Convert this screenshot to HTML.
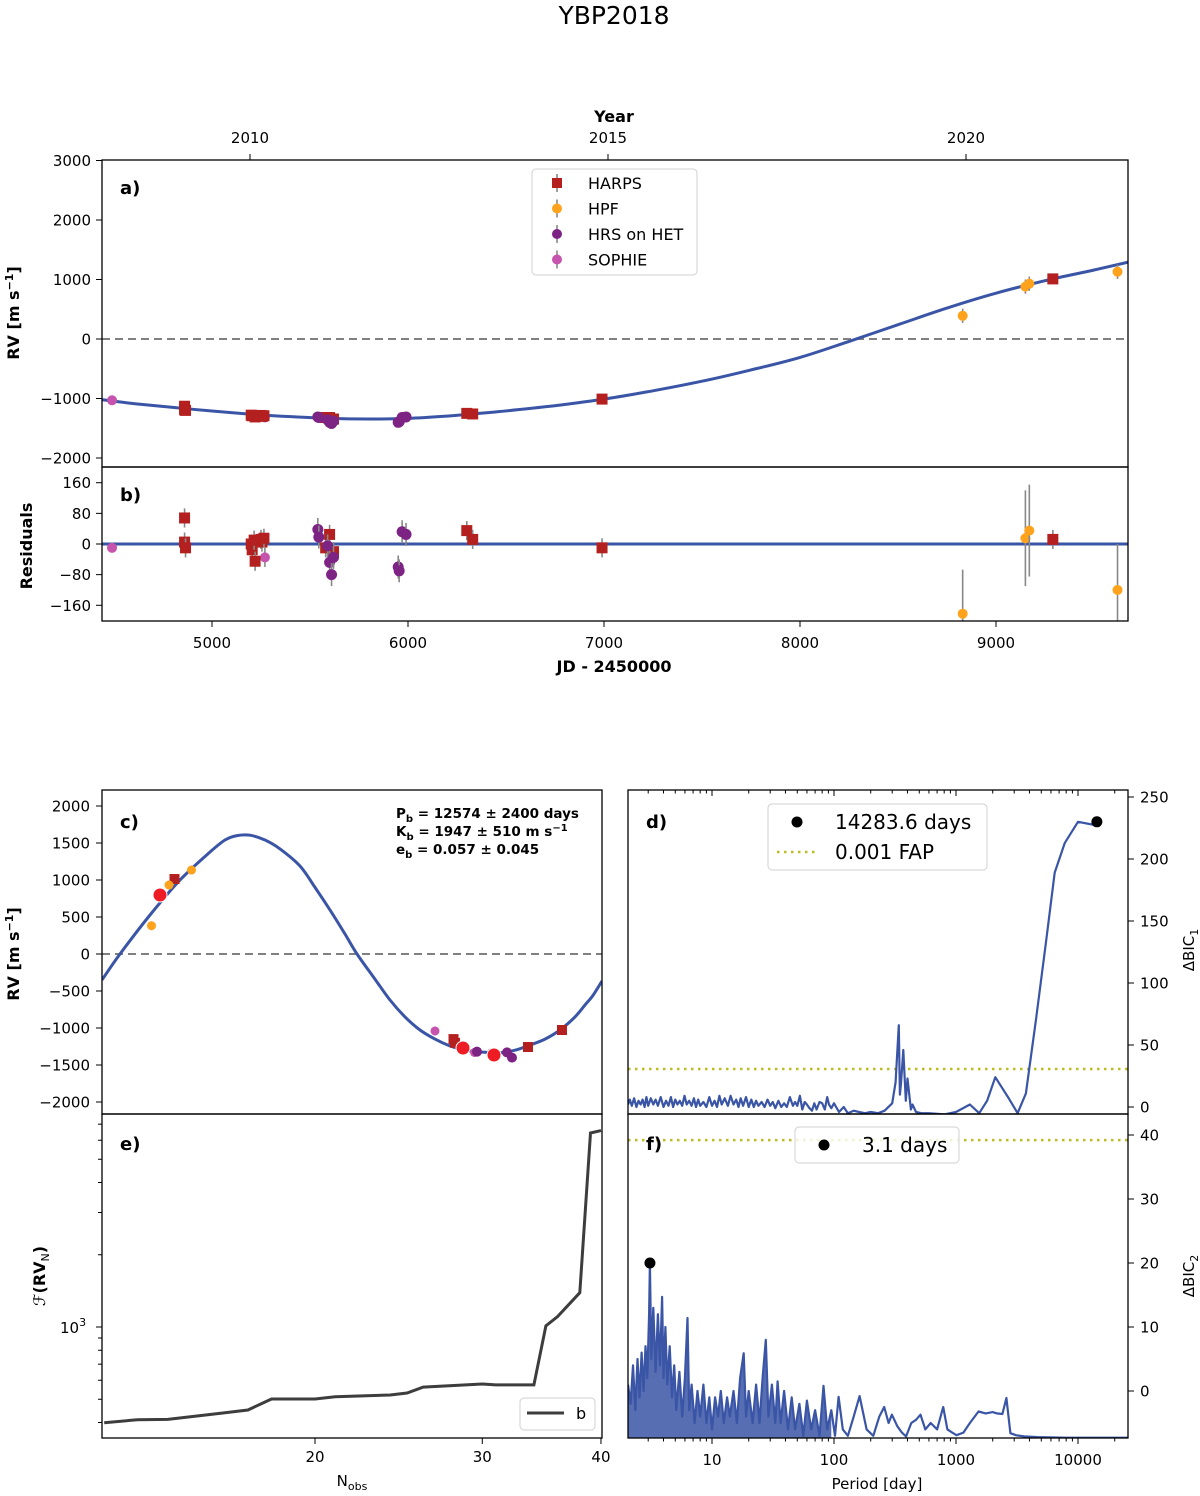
<!DOCTYPE html>
<html><head><meta charset="utf-8"><style>
body{margin:0;background:#fff}
svg{display:block;font-family:"DejaVu Sans","Liberation Sans",sans-serif}
</style></head><body>
<svg id="fig" width="1200" height="1496" viewBox="0 0 1200 1496" xmlns="http://www.w3.org/2000/svg">
<defs>
<clipPath id="ca"><rect x="102" y="160" width="1026" height="307"/></clipPath>
<clipPath id="cb"><rect x="102" y="467" width="1026" height="154"/></clipPath>
<clipPath id="cc"><rect x="102" y="790" width="500" height="324"/></clipPath>
<clipPath id="ce"><rect x="102" y="1114" width="500" height="324"/></clipPath>
<clipPath id="cd"><rect x="628" y="790" width="500" height="324"/></clipPath>
<clipPath id="cf"><rect x="628" y="1114" width="500" height="324"/></clipPath>
</defs>
<text x="614" y="24" text-anchor="middle" font-size="25">YBP2018</text>
</svg>
<script>
// ---- data: panel a (RV time series) ----
const curveJD = [4440,4600,4800,5000,5200,5400,5600,5800,6000,6200,6400,6700,7000,7250,7500,7750,8000,8250,8500,8750,9000,9250,9500,9673];
const curveRV = [-1020,-1085,-1150,-1210,-1265,-1305,-1335,-1345,-1335,-1295,-1240,-1140,-1010,-870,-710,-520,-310,-40,240,520,770,980,1160,1290];
const harpsJD = [4860,4860,4865,5200,5205,5215,5220,5250,5255,5265,5580,5600,5620,6300,6330,6990,9290];
const harpsRV = [-1130,-1190,-1200,-1280,-1290,-1285,-1310,-1285,-1300,-1290,-1320,-1320,-1345,-1250,-1260,-1010,1010];
const harpsRes = [68,5,-10,0,-15,10,-45,12,5,15,-10,25,-20,35,12,-10,12];
const hpfJD = [8830,9150,9170,9620];
const hpfRV = [390,880,930,1130];
const hpfRes = [-182,15,35,-120];
const hpfErr = [115,125,120,120];
const hrsJD = [5540,5545,5590,5600,5610,5620,5950,5955,5970,5990];
const hrsRV = [-1310,-1320,-1360,-1400,-1420,-1380,-1400,-1390,-1320,-1310];
const hrsRes = [38,18,-5,-48,-80,-35,-60,-70,32,25];
const sophJD = [4490,5270];
const sophRV = [-1030,-1320];
const sophRes = [-10,-35];
// ---- panel c (phased) ----
const cPhase = [0,.036,.096,.156,.216,.246,.27,.296,.326,.356,.396,.426,.456,.486,.51,.546,.576,.606,.636,.666,.696,.726,.756,.796,.826,.856,.886,.916,.946,.966,.982,1];
const cModel = [-350,0,527,1000,1378,1540,1600,1605,1540,1420,1189,900,595,270,0,-340,-622,-850,-1027,-1150,-1243,-1300,-1324,-1335,-1300,-1230,-1150,-1027,-850,-689,-560,-365];
const cHpfPh = [.099,.134,.179]; const cHpfRV = [382,932,1135];
const cHarpsPh = [.145,.703,.706,.852,.92]; const cHarpsRV = [1013,-1150,-1200,-1257,-1027];
const cHrsPh = [.75,.78,.81,.82]; const cHrsRV = [-1320,-1340,-1330,-1400];
const cSophPh = [.666,.745]; const cSophRV = [-1040,-1330];
const cBigPh = [.116,.722,.784]; const cBigRV = [797,-1270,-1365];
// ---- panel e ----
const eN = [12,13,14,16,17,18,20,21,24,25,26,30,31,34,35,36,38,39,40];
const eF = [399,411,412,438,451,501,501,512,521,531,562,579,574,574,1012,1104,1390,6430,6580];
// ---- panel d ----
const dP = [2.05,2.12,2.2,2.3,2.4,2.5,2.6,2.7,2.8,2.9,3,3.15,3.3,3.45,3.6,3.8,4,4.2,4.4,4.6,4.8,5,5.2,5.45,5.7,5.95,6.2,6.5,6.8,7.1,7.4,7.7,8,8.5,9,9.5,10,10.5,11,11.5,12,12.7,13.5,14.2,15,15.8,16.5,17.2,18,19,20,21,22,23,24,25.5,27,28.5,30,31.5,33,35,37,39,41,43.5,46,48,50,52.5,55,57.5,60,63,66,69,72,76,80,84,88,91,95,100,110,120,130,145,160,180,200,230,260,300,320,340,347,355,370,388,400,427,440,470,520,600,800,1000,1300,1550,1800,2100,2670,3200,3740,4520,5500,6440,7800,10000,14400,25700];
const dV = [2,6,1,7,0,5,2,6,0,8,1,7,2,6,1,8,0,5,1,8,0,6,2,5,1,9,2,5,1,7,0,6,1,4,0,8,1,5,0,9,2,7,1,9,2,6,0,7,1,8,0,6,0,5,1,4,0,6,1,4,-1,5,0,3,0,8,1,4,1,9,-2,4,2,-1,-3,3,-2,4,3,-2,8,2,-1,3,-4,0,-5,-3,-4,-5,-4,-5,-3,3,20,66,10,20,46,5,23,-2,2,-4,-5,-5,-6,-4,2,-5,5,24,8,-5,11,70,135,189,213,230,227];
const dPeakP = [14283.6]; const dPeakV = [230];
const dFAP = 30.6;
// ---- panel f ----
const fP = [2.05,2.15,2.25,2.35,2.45,2.55,2.65,2.75,2.85,2.95,3.05,3.1,3.18,3.3,3.45,3.6,3.75,3.9,4.0,4.15,4.3,4.5,4.7,4.9,5.1,5.4,5.7,6.0,6.3,6.5,6.8,7.2,7.6,8.0,8.5,9,9.5,10,10.6,11.2,11.8,12.5,13.3,14,15,16,17,18.2,19,20,21.5,23,24.5,26,27.6,29,31,33,34.5,36.5,39,42,45,48,52,56,60,65,70,76,82,88,95,102,109,118,130,145,162,185,210,235,258,280,298,330,360,390,430,470,512,560,620,700,785,850,930,1010,1150,1300,1530,1750,2000,2160,2400,2590,2790,3100,3600,4650,8000,26000];
const fV = [1,-2,4,-3,5,-1,6,0,7,2,12,20,5,13,3,12,4,14.7,2,10,1,7,-1,4,-3,3,-4,2,11.4,-3,1,-5,0,-4,1,-5,-1,-6,-1,-4,0,-5,-1,-4,0,-5,2,5.9,-4,0,-5,1,-5,2,8,-4,1,-5,1.5,-5,0,-6,-1,-6,-2,-7,-1.5,-6,-3,-7,0.8,-6,-3,-7,-0.9,-6,-7,-4,-0.8,-6,-7,-4,-2.5,-5,-3.7,-5.5,-6.5,-7.1,-5,-4.5,-3.7,-6,-5,-6,-2.5,-6,-6.5,-6.9,-6.5,-5,-3.2,-3.5,-3.3,-3.5,-3.6,-1.1,-6.6,-6.9,-7.1,-7.2,-7.3,-7.3];
const fPeakP = [3.1]; const fPeakV = [20];
const fFAP = 39.2;
// tick labels
const aYTicks = [3000,2000,1000,0,-1000,-2000];
const bYTicks = [160,80,0,-80,-160];
const jdTicks = [5000,6000,7000,8000,9000];
const yearTicks = [2010,2015,2020];
const cYTicks = [2000,1500,1000,500,0,-500,-1000,-1500,-2000];
const nTicks = [20,30,40];
const perTicks = [10,100,1000,10000];
const dYTicks = [250,200,150,100,50,0];
const fYTicks = [40,30,20,10,0];

// axis functions
const xa = jd => 212 + (jd - 5000) * 0.196;
const ya = v => 339 - v * 0.0595;
const yb = r => 544 - r * 0.383;
const xyear = y => 250 + (y - 2010) * 71.6;
const xc = ph => 102 + ph * 500;
const yc = v => 954 - v * 0.074;
const xe = n => 315 + 950 * Math.log10(n / 20);
const ye = F => 1327 - (Math.log10(F) - 3) * 240;
const xp = P => 712 + (Math.log10(P) - 1) * 122;
const yd = p => 1107 - p * 1.24;
const yf = p => 1391 - p * 6.4;

const NS = 'http://www.w3.org/2000/svg';
const svg = document.getElementById('fig');
function mk(tag, attrs, parent) {
  const e = document.createElementNS(NS, tag);
  for (const k in attrs) e.setAttribute(k, attrs[k]);
  (parent || svg).appendChild(e);
  return e;
}
function txt(x, y, s, attrs) {
  const e = mk('text', Object.assign({x: x, y: y}, attrs || {}));
  e.textContent = s;
  return e;
}
function fmt(v) { return v < 0 ? '\u2212' + Math.abs(v) : String(v); }
const BLUE = '#3a55a6', HARPS = '#b3201f', HPF = '#ffa21c', HRS = '#7c2383', SOPH = '#c653ad';

function pathFrom(xs, ys, fx, fy) {
  return xs.map((v, i) => (i ? 'L' : 'M') + fx(v).toFixed(1) + ' ' + fy(ys[i]).toFixed(1)).join(' ');
}
function smoothPath(xs, ys, fx, fy) {
  const p = xs.map((v, i) => [fx(v), fy(ys[i])]);
  let d = 'M' + p[0][0].toFixed(1) + ' ' + p[0][1].toFixed(1);
  for (let i = 0; i < p.length - 1; i++) {
    const p0 = p[Math.max(0, i - 1)], p1 = p[i], p2 = p[i + 1], p3 = p[Math.min(p.length - 1, i + 2)];
    const c1 = [p1[0] + (p2[0] - p0[0]) / 6, p1[1] + (p2[1] - p0[1]) / 6];
    const c2 = [p2[0] - (p3[0] - p1[0]) / 6, p2[1] - (p3[1] - p1[1]) / 6];
    d += ' C' + c1[0].toFixed(1) + ' ' + c1[1].toFixed(1) + ' ' + c2[0].toFixed(1) + ' ' + c2[1].toFixed(1) + ' ' + p2[0].toFixed(1) + ' ' + p2[1].toFixed(1);
  }
  return d;
}
function marker(g, shape, x, y, color, r) {
  let m;
  if (shape === 'sq') m = mk('rect', {x: x - r, y: y - r, width: 2 * r, height: 2 * r, fill: color}, g);
  else m = mk('circle', {cx: x, cy: y, r: r, fill: color}, g);
  return m;
}
function errbar(g, x, y1, y2) {
  return mk('line', {x1: x, x2: x, y1: y1, y2: y2, stroke: '#888', 'stroke-width': 1.6}, g);
}

// ================= Panel a =================
const ga = mk('g', {'clip-path': 'url(#ca)'});


let z = mk('line', {x1: 102, x2: 1128, y1: ya(0), y2: ya(0), stroke: '#808080', 'stroke-width': 2, 'stroke-dasharray': '8,5'}, ga);


let cv = mk('path', {d: smoothPath(curveJD, curveRV, xa, ya), fill: 'none', stroke: BLUE, 'stroke-width': 3}, ga);


function series(g, jds, vals, fy, shape, color, r, errs, nm) {
  jds.forEach((j, i) => {
    const e = errs ? errs[i] : 20;
    const eb = errbar(g, xa(j), fy(vals[i] + e), fy(vals[i] - e));
    
    
    const m = marker(g, shape, xa(j), fy(vals[i]), color, r);
    
    
  });
}
series(ga, sophJD, sophRV, ya, 'c', SOPH, 5, [40, 40], 'sophie');
series(ga, harpsJD, harpsRV, ya, 'sq', HARPS, 5.5, null, 'harps');
series(ga, hrsJD, hrsRV, ya, 'c', HRS, 5.5, null, 'hrs');
series(ga, hpfJD, hpfRV, ya, 'c', HPF, 5, [120, 120, 120, 120], 'hpf');

// ================= Panel b =================
const gb = mk('g', {'clip-path': 'url(#cb)'});


let zb = mk('line', {x1: 102, x2: 1128, y1: yb(0), y2: yb(0), stroke: BLUE, 'stroke-width': 3}, gb);


series(gb, sophJD, sophRes, yb, 'c', SOPH, 5, [12, 25], 'sophie-res');
series(gb, harpsJD, harpsRes, yb, 'sq', HARPS, 5.5, harpsJD.map(() => 25), 'harps-res');
series(gb, hrsJD, hrsRes, yb, 'c', HRS, 5.5, hrsJD.map(() => 30), 'hrs-res');
series(gb, hpfJD, hpfRes, yb, 'c', HPF, 5, hpfErr, 'hpf-res');

// frames a, b
let fa = mk('rect', {x: 102, y: 160, width: 1026, height: 307, fill: 'none', stroke: '#000', 'stroke-width': 1.3});


let fb = mk('rect', {x: 102, y: 467, width: 1026, height: 154, fill: 'none', stroke: '#000', 'stroke-width': 1.3});


aYTicks.forEach(v => {
  mk('line', {x1: 96, x2: 102, y1: ya(v), y2: ya(v), stroke: '#000'});
  const t = txt(91, ya(v) + 5.5, fmt(v), {'text-anchor': 'end', 'font-size': 15});
  
  
});
bYTicks.forEach(v => {
  mk('line', {x1: 96, x2: 102, y1: yb(v), y2: yb(v), stroke: '#000'});
  const t = txt(91, yb(v) + 5.5, fmt(v), {'text-anchor': 'end', 'font-size': 15});
  
  
});
jdTicks.forEach(v => {
  mk('line', {x1: xa(v), x2: xa(v), y1: 621, y2: 627, stroke: '#000'});
  const t = txt(xa(v), 648, String(v), {'text-anchor': 'middle', 'font-size': 15});
  
  
});
yearTicks.forEach(v => {
  mk('line', {x1: xyear(v), x2: xyear(v), y1: 154, y2: 160, stroke: '#000'});
  const t = txt(xyear(v), 143, String(v), {'text-anchor': 'middle', 'font-size': 15});
  
  
});
let t;
t = txt(614, 122, 'Year', {'text-anchor': 'middle', 'font-size': 16, 'font-weight': 'bold'});


t = txt(614, 672, 'JD - 2450000', {'text-anchor': 'middle', 'font-size': 16, 'font-weight': 'bold'});


t = txt(0, 0, '', {'font-size': 16, 'font-weight': 'bold', 'text-anchor': 'middle', transform: 'translate(19,313) rotate(-90)'});
t.innerHTML = 'RV [m s<tspan dy="-6" font-size="11">\u22121</tspan><tspan dy="6">]</tspan>';


t = txt(0, 0, 'Residuals', {'font-size': 16, 'font-weight': 'bold', 'text-anchor': 'middle', transform: 'translate(32,546) rotate(-90)'});


t = txt(120, 194, 'a)', {'font-size': 18, 'font-weight': 'bold'});


t = txt(120, 501, 'b)', {'font-size': 18, 'font-weight': 'bold'});


// legend a
const lg = mk('g', {});


mk('rect', {x: 532, y: 169, width: 165, height: 106, rx: 4, fill: '#fff', stroke: '#d0d0d0'}, lg);
[['HARPS', HARPS, 'sq'], ['HPF', HPF, 'c'], ['HRS on HET', HRS, 'c'], ['SOPHIE', SOPH, 'c']].forEach((e, i) => {
  const y = 183 + i * 25.5;
  const le = mk('g', {}, lg);
  
  
  errbar(le, 557, y - 9, y + 9);
  marker(le, e[2], 557, y, e[1], 5);
  const tt = txt(588, y + 6, e[0], {'font-size': 16}); le.appendChild(tt);
});

// ================= Panel c =================
const gc = mk('g', {'clip-path': 'url(#cc)'});


z = mk('line', {x1: 102, x2: 602, y1: yc(0), y2: yc(0), stroke: '#808080', 'stroke-width': 2, 'stroke-dasharray': '8,5'}, gc);


cv = mk('path', {d: smoothPath(cPhase, cModel, xc, yc), fill: 'none', stroke: BLUE, 'stroke-width': 3}, gc);


function cser(ph, vals, shape, color, r, nm) {
  ph.forEach((p, i) => {
    const eb = errbar(gc, xc(p), yc(vals[i] + 60), yc(vals[i] - 60));
    
    
    const m = marker(gc, shape, xc(p), yc(vals[i]), color, r);
    
    
  });
}
cser(cSophPh, cSophRV, 'c', SOPH, 4.5, 'c-sophie');
cser(cHarpsPh, cHarpsRV, 'sq', HARPS, 5, 'c-harps');
cser(cHrsPh, cHrsRV, 'c', HRS, 5, 'c-hrs');
cser(cHpfPh, cHpfRV, 'c', HPF, 4.5, 'c-hpf');
cBigPh.forEach((p, i) => {
  const m = mk('circle', {cx: xc(p), cy: yc(cBigRV[i]), r: 7, fill: '#ee1c24', stroke: '#fff', 'stroke-width': 1}, gc);
  
  
});
let fc = mk('rect', {x: 102, y: 790, width: 500, height: 324, fill: 'none', stroke: '#000', 'stroke-width': 1.3});


cYTicks.forEach(v => {
  mk('line', {x1: 96, x2: 102, y1: yc(v), y2: yc(v), stroke: '#000'});
  const tt = txt(90, yc(v) + 5.5, fmt(v), {'text-anchor': 'end', 'font-size': 15});
  
  
});
t = txt(120, 828, 'c)', {'font-size': 18, 'font-weight': 'bold'});


t = txt(0, 0, '', {'font-size': 16, 'font-weight': 'bold', 'text-anchor': 'middle', transform: 'translate(19,954) rotate(-90)'});
t.innerHTML = 'RV [m s<tspan dy="-6" font-size="11">\u22121</tspan><tspan dy="6">]</tspan>';


const ann = mk('g', {'font-size': 13.5, 'font-weight': 'bold'});


let a1 = txt(396, 818, ''); a1.innerHTML = 'P<tspan dy="4" font-size="10">b</tspan><tspan dy="-4"> = 12574 ± 2400 days</tspan>'; ann.appendChild(a1);
let a2 = txt(396, 836, ''); a2.innerHTML = 'K<tspan dy="4" font-size="10">b</tspan><tspan dy="-4"> = 1947 ± 510 m s</tspan><tspan dy="-5" font-size="10">\u22121</tspan>'; ann.appendChild(a2);
let a3 = txt(396, 854, ''); a3.innerHTML = 'e<tspan dy="4" font-size="10">b</tspan><tspan dy="-4"> = 0.057 ± 0.045</tspan>'; ann.appendChild(a3);

// ================= Panel e =================
const ge = mk('g', {'clip-path': 'url(#ce)'});


cv = mk('path', {d: pathFrom(eN, eF, xe, ye), fill: 'none', stroke: '#3d3d3d', 'stroke-width': 3}, ge);


let fe = mk('rect', {x: 102, y: 1114, width: 500, height: 324, fill: 'none', stroke: '#000', 'stroke-width': 1.3});


[400,500,600,700,800,900,2000,3000,4000,5000,6000,7000].forEach(v => mk('line', {x1: 98, x2: 102, y1: ye(v), y2: ye(v), stroke: '#000'}));
mk('line', {x1: 96, x2: 102, y1: ye(1000), y2: ye(1000), stroke: '#000'});
t = txt(60, 1333, '', {'font-size': 15}); t.innerHTML = '10<tspan dy="-7" font-size="11">3</tspan>';


nTicks.forEach(v => {
  mk('line', {x1: xe(v), x2: xe(v), y1: 1438, y2: 1444, stroke: '#000'});
  const tt = txt(xe(v), 1462, String(v), {'text-anchor': 'middle', 'font-size': 15});
  
  
});
t = txt(352, 1486, '', {'text-anchor': 'middle', 'font-size': 15}); t.innerHTML = 'N<tspan dy="4" font-size="11">obs</tspan>';


t = txt(0, 0, '', {'font-size': 16, 'font-weight': 'bold', 'text-anchor': 'middle', transform: 'translate(45,1276) rotate(-90)'});
t.innerHTML = '<tspan font-style="italic" font-weight="normal">\u2131</tspan>(RV<tspan dy="4" font-size="11" font-weight="normal">N</tspan><tspan dy="-4">)</tspan>';


t = txt(120, 1150, 'e)', {'font-size': 18, 'font-weight': 'bold'});


const lge = mk('g', {});


mk('rect', {x: 520, y: 1398, width: 75, height: 32, rx: 4, fill: '#fff', stroke: '#d0d0d0'}, lge);
mk('line', {x1: 527, x2: 564, y1: 1413, y2: 1413, stroke: '#3d3d3d', 'stroke-width': 3}, lge);
lge.appendChild(txt(576, 1419, 'b', {'font-size': 16}));

// ================= Panel d =================
function logMinor(yEdge, dir) {
  for (let dec = 0; dec <= 4; dec++) for (let k = 1; k <= 9; k++) {
    const P = k * Math.pow(10, dec);
    if (P < 2.05 || P > 25700) continue;
    const len = k === 1 ? 6 : 3.5;
    mk('line', {x1: xp(P), x2: xp(P), y1: yEdge, y2: yEdge + dir * len, stroke: '#000'});
  }
}
const gd = mk('g', {'clip-path': 'url(#cd)'});


let fl = mk('line', {x1: 628, x2: 1128, y1: yd(dFAP), y2: yd(dFAP), stroke: '#bcbd22', 'stroke-width': 2.5, 'stroke-dasharray': '2.5,4.5'}, gd);


cv = mk('path', {d: pathFrom(dP, dV, xp, yd), fill: 'none', stroke: BLUE, 'stroke-width': 2.2, 'stroke-linejoin': 'round'}, gd);


dPeakP.forEach((p, i) => {
  const m = mk('circle', {cx: xp(p), cy: yd(dPeakV[i]), r: 5.5, fill: '#000'}, gd);
  
  
});
let fd = mk('rect', {x: 628, y: 790, width: 500, height: 324, fill: 'none', stroke: '#000', 'stroke-width': 1.3});


logMinor(790, 1);
dYTicks.forEach(v => {
  mk('line', {x1: 1128, x2: 1134, y1: yd(v), y2: yd(v), stroke: '#000'});
  const tt = txt(1140, yd(v) + 5.5, String(v), {'font-size': 15});
  
  
});
t = txt(0, 0, '', {'font-size': 15, 'text-anchor': 'middle', transform: 'translate(1194,950) rotate(-90)'});
t.innerHTML = 'ΔBIC<tspan dy="4" font-size="11">1</tspan>';


t = txt(646, 828, 'd)', {'font-size': 18, 'font-weight': 'bold'});


const lgd = mk('g', {});


mk('rect', {x: 768, y: 804, width: 219, height: 66, rx: 4, fill: '#fff', stroke: '#d0d0d0'}, lgd);
mk('circle', {cx: 797, cy: 822, r: 5.5, fill: '#000'}, lgd);
lgd.appendChild(txt(835, 829, '14283.6 days', {'font-size': 20}));
mk('line', {x1: 777, x2: 818, y1: 852, y2: 852, stroke: '#bcbd22', 'stroke-width': 2.5, 'stroke-dasharray': '2.5,4.5'}, lgd);
lgd.appendChild(txt(835, 859, '0.001 FAP', {'font-size': 20}));

// ================= Panel f =================
const gf = mk('g', {'clip-path': 'url(#cf)'});


fl = mk('line', {x1: 628, x2: 1128, y1: yf(fFAP), y2: yf(fFAP), stroke: '#bcbd22', 'stroke-width': 2.5, 'stroke-dasharray': '2.5,4.5'}, gf);


const denseIdx = fP.findIndex(p => p > 100);
const denseP = fP.slice(0, denseIdx), denseV = fV.slice(0, denseIdx);
let ar = mk('path', {d: pathFrom(denseP, denseV, xp, yf) + ' L' + xp(denseP[denseP.length - 1]) + ' 1440 L628 1440 Z', fill: BLUE, opacity: 0.85}, gf);


cv = mk('path', {d: pathFrom(fP, fV, xp, yf), fill: 'none', stroke: BLUE, 'stroke-width': 2.2, 'stroke-linejoin': 'round'}, gf);


fPeakP.forEach((p, i) => {
  const m = mk('circle', {cx: xp(p), cy: yf(fPeakV[i]), r: 5.5, fill: '#000'}, gf);
  
  
});
let ff = mk('rect', {x: 628, y: 1114, width: 500, height: 324, fill: 'none', stroke: '#000', 'stroke-width': 1.3});


logMinor(1438, 1);
fYTicks.forEach(v => {
  mk('line', {x1: 1128, x2: 1134, y1: yf(v), y2: yf(v), stroke: '#000'});
  const tt = txt(1140, yf(v) + 5.5, String(v), {'font-size': 15});
  
  
});
perTicks.forEach(v => {
  const tt = txt(xp(v), 1465, String(v), {'text-anchor': 'middle', 'font-size': 15});
  
  
});
t = txt(877, 1489, 'Period [day]', {'text-anchor': 'middle', 'font-size': 15});


t = txt(0, 0, '', {'font-size': 15, 'text-anchor': 'middle', transform: 'translate(1194,1276) rotate(-90)'});
t.innerHTML = 'ΔBIC<tspan dy="4" font-size="11">2</tspan>';


t = txt(646, 1150, 'f)', {'font-size': 18, 'font-weight': 'bold'});


const lgf = mk('g', {});


mk('rect', {x: 795, y: 1127, width: 164, height: 36, rx: 4, fill: '#fff', 'fill-opacity': 0.8, stroke: '#d0d0d0'}, lgf);
mk('circle', {cx: 824, cy: 1145, r: 5.5, fill: '#000'}, lgf);
lgf.appendChild(txt(862, 1152, '3.1 days', {'font-size': 20}));
</script>
</body></html>
